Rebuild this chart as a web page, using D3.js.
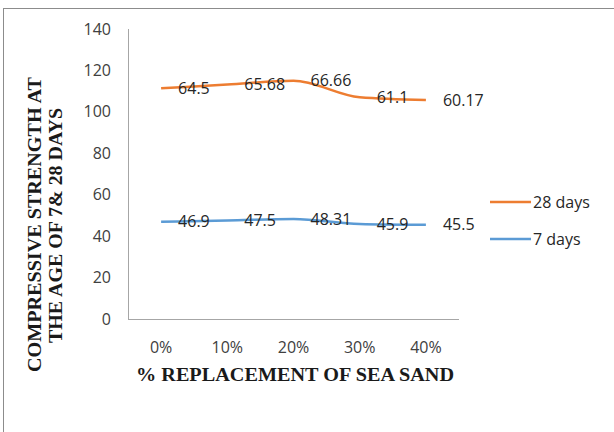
<!DOCTYPE html>
<html>
<head>
<meta charset="utf-8">
<script src="https://cdn.jsdelivr.net/npm/d3@7"></script>
<style>
  body { margin: 0; background: #fff; }
  svg { display: block; }
  .tick-label { font-family: "Open Sans", sans-serif; font-size: 16px; fill: #404040; }
  .data-label { font-family: "Open Sans", sans-serif; font-size: 16px; fill: #262626; }
  .axis-title { font-family: "Liberation Serif", serif; font-weight: bold; font-size: 18px; fill: #1a1a1a; }
</style>
</head>
<body>
<script>
const categories = ['0%', '10%', '20%', '30%', '40%']
const days7 = [46.9, 47.5, 48.31, 45.9, 45.5]
const days28 = [64.5, 65.68, 66.66, 61.1, 60.17]
const yTicks = [0, 20, 40, 60, 80, 100, 120, 140]
const seriesNames = ['7 days', '28 days']
const seriesColors = {'7 days': '#5B9BD5', '28 days': '#ED7D31'}

const width = 614
const height = 432

const svg = d3.select('body').append('svg')
    .attr('width', width)
    .attr('height', height)

// chart frame
svg.append('rect')
    .attr('x', 3.5).attr('y', 8.5)
    .attr('width', width + 10).attr('height', height + 10)
    .attr('fill', 'none')
    .attr('stroke', '#8c8c8c')
    .attr('stroke-width', 1)

const plotLeft = 128, plotRight = 459, plotTop = 29, plotBottom = 319

const x = d3.scaleBand().domain(categories).range([plotLeft, plotRight])
const y = d3.scaleLinear().domain([0, 140]).range([plotBottom, plotTop])

// stacked line chart (Excel style)
const rows = categories.map((c, i) => ({cat: c, '7 days': days7[i], '28 days': days28[i]}))
const stacked = d3.stack().keys(seriesNames)(rows)

// axes lines
svg.append('line')
    .attr('x1', plotLeft + 0.5).attr('x2', plotLeft + 0.5)
    .attr('y1', y(140)).attr('y2', y(0))
    .attr('stroke', '#a6a6a6')
svg.append('line')
    .attr('x1', plotLeft).attr('x2', plotRight)
    .attr('y1', y(0) + 0.5).attr('y2', y(0) + 0.5)
    .attr('stroke', '#a6a6a6')

// y tick labels
svg.selectAll('.ytick').data(yTicks).join('text')
    .attr('class', 'tick-label')
    .attr('x', 111)
    .attr('y', d => y(d))
    .attr('dy', '0.35em')
    .attr('text-anchor', 'end')
    .text(d => d)

// x tick labels
svg.selectAll('.xtick').data(categories).join('text')
    .attr('class', 'tick-label')
    .attr('x', d => x(d) + x.bandwidth() / 2)
    .attr('y', 347)
    .attr('dy', '0.35em')
    .attr('text-anchor', 'middle')
    .text(d => d)

const line = d3.line()
    .x(d => x(d.data.cat) + x.bandwidth() / 2)
    .y(d => y(d[1]))
    .curve(d3.curveMonotoneX)

svg.selectAll('.series').data(stacked).join('path')
    .attr('d', line)
    .attr('fill', 'none')
    .attr('stroke', d => seriesColors[d.key])
    .attr('stroke-width', 2.5)

// data labels, to the right of each point
stacked.forEach(s => {
    svg.selectAll('.lbl-' + s.index).data(s).join('text')
        .attr('class', 'data-label')
        .attr('x', d => x(d.data.cat) + x.bandwidth() / 2 + 17)
        .attr('y', d => y(d[1]))
        .attr('dy', '0.35em')
        .text(d => d.data[s.key])
})

// legend
const legendItems = ['28 days', '7 days']
const legend = svg.selectAll('.legend').data(legendItems).join('g')
    .attr('transform', (d, i) => `translate(490, ${202 + i * 37})`)
legend.append('line')
    .attr('x1', 0).attr('x2', 41)
    .attr('stroke', d => seriesColors[d])
    .attr('stroke-width', 2.5)
legend.append('text')
    .attr('class', 'tick-label')
    .style('fill', '#262626')
    .attr('x', 43)
    .attr('dy', '0.35em')
    .text(d => d)

// axis titles
svg.append('text')
    .attr('class', 'axis-title')
    .attr('x', 136).attr('y', 375)
    .attr('dy', '0.35em')
    .attr('textLength', 318)
    .attr('lengthAdjust', 'spacingAndGlyphs')
    .text('% REPLACEMENT OF SEA SAND')

const yTitle = svg.append('text')
    .attr('class', 'axis-title')
    .attr('transform', 'translate(35, 372) rotate(-90)')
yTitle.append('tspan').attr('x', 0).attr('dy', '0.35em')
    .attr('textLength', 295).attr('lengthAdjust', 'spacingAndGlyphs')
    .text('COMPRESSIVE STRENGTH AT')
yTitle.append('tspan').attr('x', 29).attr('dy', '21')
    .attr('textLength', 235).attr('lengthAdjust', 'spacingAndGlyphs')
    .text('THE AGE OF 7& 28 DAYS')
</script>
</body>
</html>
